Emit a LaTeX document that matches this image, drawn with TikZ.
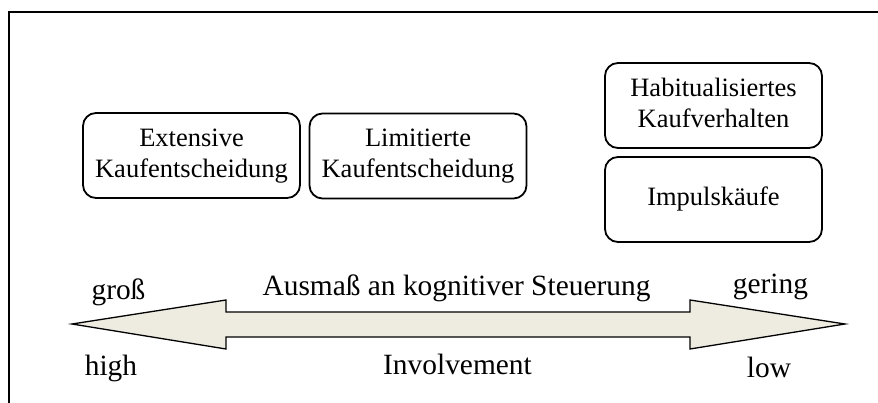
\documentclass[tikz,border=0pt]{standalone}
\usepackage{fontspec}
\setmainfont{Liberation Serif}
\definecolor{arrowfill}{HTML}{EEECE1}
\begin{document}
\begin{tikzpicture}[x=1pt,y=-1pt,
  boxstyle/.style={draw=black,line width=1.8pt,rounded corners=13pt,
    minimum width=217pt,minimum height=85pt,inner sep=0pt,align=center,
    font=\fontsize{26.5}{31}\selectfont},
  axislabel/.style={anchor=base,inner sep=0pt,font=\fontsize{29.4}{34}\selectfont},
  framestyle/.style={line width=1.8pt}]
\useasboundingbox (0,0) rectangle (878,403);
% frame (only top and left edges visible)
\draw[framestyle] (9,403) -- (9,12) -- (878,12);
% boxes
\node[boxstyle] (ext) at (191.5,155.5) {Extensive\strut\\Kaufentscheidung\strut};
\node[boxstyle] (lim) at (418,156) {Limitierte\strut\\Kaufentscheidung\strut};
\node[boxstyle] (hab) at (713.5,105.5) {Habitualisiertes\strut\\Kaufverhalten\strut};
\node[boxstyle] (imp) at (713.5,199.5) {Impulskäufe\strut};
% double arrow
\draw[line width=1.3pt,fill=arrowfill,line join=miter]
  (72,324) -- (226,300) -- (226,312) -- (690,312) -- (690,300) -- (845,324)
  -- (690,349) -- (690,337) -- (226,337) -- (226,349) -- cycle;
% axis labels
\node[axislabel] (gross) at (118.5,300) {groß};
\node[axislabel] (high) at (111,375) {high};
\node[axislabel] (ausmass) at (456.5,295) {Ausmaß an kognitiver Steuerung};
\node[axislabel] (inv) at (457.5,374) {Involvement};
\node[axislabel] (gering) at (770.5,294) {gering};
\node[axislabel] (low) at (769,377) {low};
\end{tikzpicture}
\end{document}
